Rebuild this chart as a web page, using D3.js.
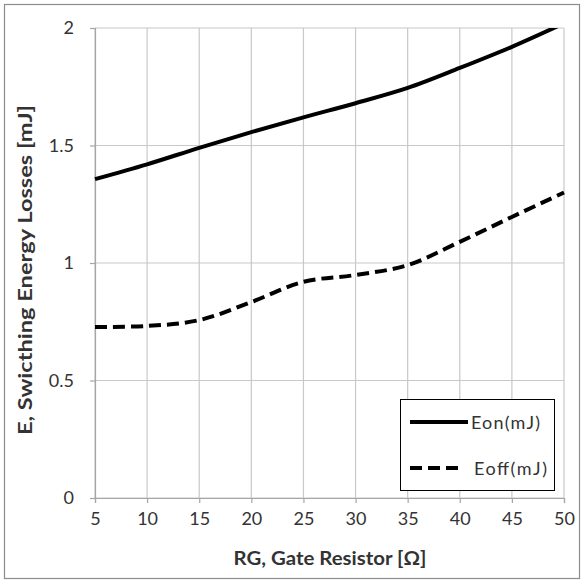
<!DOCTYPE html>
<html><head><meta charset="utf-8">
<script src="https://cdn.jsdelivr.net/npm/d3@7"></script>
<style>body{margin:0;background:#fff}svg{display:block}</style>
</head><body>
<script>
const rg = [5,10,15,20,25,30,35,40,45,50];
const eon = [1.357,1.42,1.49,1.557,1.62,1.68,1.745,1.83,1.92,2.02];
const eoff = [0.728,0.732,0.757,0.834,0.92,0.949,0.991,1.09,1.196,1.30];
const xTicks = [5,10,15,20,25,30,35,40,45,50];
const yTicks = [0,0.5,1,1.5,2];
const seriesNames = ["Eon(mJ)","Eoff(mJ)"];

const W=584,H=581;
const m={l:95,r:20,t:28,b:83};
const svg=d3.select("body").append("svg").attr("width",W).attr("height",H);
svg.append("rect").attr("x",4.5).attr("y",4.5).attr("width",575).attr("height",574)
  .attr("fill","#fff").attr("stroke","#8c8c8c").attr("stroke-width",1.2);

const x=d3.scaleLinear().domain([5,50]).range([m.l,W-m.r]);
const y=d3.scaleLinear().domain([0,2]).range([H-m.b,m.t]);
const font="Lato, 'Open Sans', sans-serif";

const grid=svg.append("g");
grid.selectAll("line.v").data(xTicks).join("line")
  .attr("x1",d=>x(d)).attr("x2",d=>x(d)).attr("y1",y(0)).attr("y2",y(2))
  .attr("stroke","#c8c8c8").attr("stroke-width",1.2);
grid.selectAll("line.h").data(yTicks).join("line")
  .attr("x1",x(5)).attr("x2",x(50)).attr("y1",d=>y(d)).attr("y2",d=>y(d))
  .attr("stroke","#c8c8c8").attr("stroke-width",1.2);

const xa=svg.append("g").attr("transform",`translate(0,${y(0)})`)
  .call(d3.axisBottom(x).tickValues(xTicks).tickSize(5).tickPadding(9).tickFormat(d3.format("d")));
const ya=svg.append("g").attr("transform",`translate(${x(5)},0)`)
  .call(d3.axisLeft(y).tickValues(yTicks).tickSize(5).tickPadding(16).tickFormat(d=>String(d)));
[xa,ya].forEach(a=>{
  a.select(".domain").attr("stroke","#a6a6a6").attr("stroke-width",1.2);
  a.selectAll(".tick line").attr("stroke","#a6a6a6").attr("stroke-width",1.2);
  a.selectAll("text").attr("font-family",font).attr("font-size",18).attr("fill","#333");
});

const clip=svg.append("clipPath").attr("id","pc").append("rect")
  .attr("x",x(5)-3).attr("y",y(2)).attr("width",x(50)-x(5)+6).attr("height",y(0)-y(2));
const line=d3.line().x((d,i)=>x(rg[i])).y(d=>y(d)).curve(d3.curveCatmullRom.alpha(0.5));
const g=svg.append("g").attr("clip-path","url(#pc)");
g.append("path").attr("d",line(eon)).attr("fill","none").attr("stroke","#000").attr("stroke-width",4);
g.append("path").attr("d",line(eoff)).attr("fill","none").attr("stroke","#000").attr("stroke-width",4)
  .attr("stroke-dasharray","12,6");

svg.append("text").attr("x",330).attr("y",565).attr("text-anchor","middle")
  .attr("font-family",font).attr("font-weight","bold").attr("font-size",19.5).attr("fill","#333")
  .attr("textLength",193).attr("lengthAdjust","spacingAndGlyphs")
  .text("RG, Gate Resistor [Ω]");
svg.append("text").attr("transform",`translate(32,270) rotate(-90)`).attr("text-anchor","middle")
  .attr("font-family",font).attr("font-weight","bold").attr("font-size",19.5).attr("fill","#333")
  .attr("textLength",330).attr("lengthAdjust","spacingAndGlyphs")
  .text("E, Swicthing Energy Losses [mJ]");

const lg=svg.append("g");
lg.append("rect").attr("x",400.5).attr("y",399.5).attr("width",154).attr("height",91)
  .attr("fill","#fff").attr("stroke","#000").attr("stroke-width",1);
const lys=[422,468];
const lw=[69,73];
seriesNames.forEach((n,i)=>{
  lg.append("line").attr("x1",410).attr("x2",i?464:468).attr("y1",lys[i]).attr("y2",lys[i])
    .attr("stroke","#000").attr("stroke-width",4).attr("stroke-dasharray",i?"12,6":null);
  lg.append("text").attr("x",i?474:471).attr("y",lys[i]+6.5).attr("font-family",font)
    .attr("font-size",18).attr("fill","#333")
    .attr("textLength",lw[i]).attr("lengthAdjust","spacing").text(n);
});
</script>
</body></html>
